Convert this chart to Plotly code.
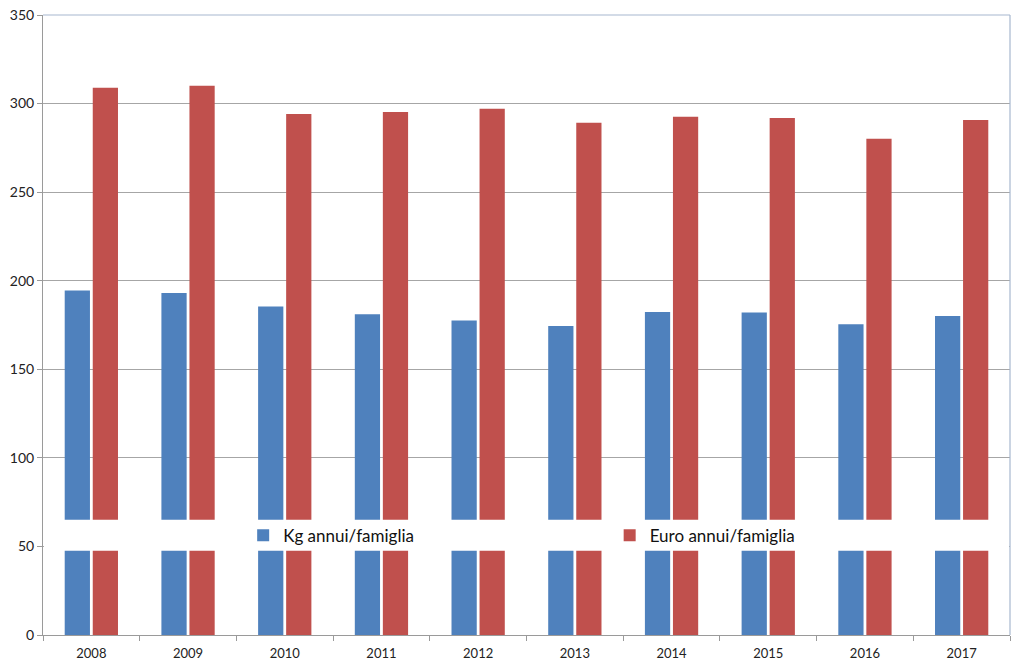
import plotly.graph_objects as go

years = ["2008", "2009", "2010", "2011", "2012", "2013", "2014", "2015", "2016", "2017"]
kg_annui = [194.5, 193.0, 185.5, 181.0, 177.5, 174.4, 182.3, 182.0, 175.4, 180.1]
euro_annui = [309.0, 310.1, 294.1, 295.2, 297.1, 289.2, 292.6, 291.9, 280.2, 290.7]
y_ticks = [0, 50, 100, 150, 200, 250, 300, 350]

FONT = "Lato, 'Open Sans', sans-serif"

fig = go.Figure()
fig.add_trace(go.Bar(x=years, y=kg_annui, name="Kg annui/famiglia", legend="legend",
                     marker=dict(color="#4f81bd", line=dict(width=0))))
fig.add_trace(go.Bar(x=years, y=euro_annui, name="Euro annui/famiglia", legend="legend2",
                     marker=dict(color="#c0504d", line=dict(width=0))))

# white band behind the legend, covering the bars
fig.add_shape(type="rect", xref="paper", yref="y", x0=0.001, x1=0.999, y0=47.5, y1=65.1,
              fillcolor="white", line=dict(width=0), layer="above")
# top and right plot border (bluish)
fig.add_shape(type="line", xref="paper", yref="paper", x0=0, x1=1, y0=1, y1=1,
              line=dict(color="#a7b7cf", width=1.2), layer="above")
fig.add_shape(type="line", xref="paper", yref="paper", x0=1, x1=1, y0=0, y1=1,
              line=dict(color="#a7b7cf", width=1.2), layer="above")

leg_common = dict(orientation="h", yanchor="middle", y=0.16, xanchor="left",
                  bgcolor="rgba(0,0,0,0)", font=dict(size=17, color="#111111"),
                  itemwidth=30)

fig.update_layout(
    width=1024, height=670,
    margin=dict(l=43, r=14, t=15, b=35, autoexpand=False),
    paper_bgcolor="white", plot_bgcolor="white",
    barmode="group", bargap=0.42, bargroupgap=0.1,
    font=dict(family=FONT, color="#222222", size=13),
    showlegend=True,
    legend=dict(x=0.207, **leg_common),
    legend2=dict(x=0.586, **leg_common),
    xaxis=dict(showline=True, linecolor="#9a9a9a", linewidth=1, automargin=False,
               ticks="outside", tickson="boundaries", ticklen=5, tickcolor="#9a9a9a",
               ticklabelstandoff=6,
               showgrid=False, tickfont=dict(size=13)),
    yaxis=dict(range=[0, 350], tickvals=y_ticks, showline=True, linecolor="#9a9a9a",
               linewidth=1, ticks="outside", ticklen=5, tickcolor="#9a9a9a",
               automargin=False, ticklabeloverflow="allow",
               showgrid=True, gridcolor="#a6a6a6", gridwidth=1, zeroline=False,
               tickfont=dict(size=14)),
)

fig.write_html("out.html",
               config={"displayModeBar": False},
               post_script="document.body.style.margin='0';document.body.style.overflow='hidden';")
